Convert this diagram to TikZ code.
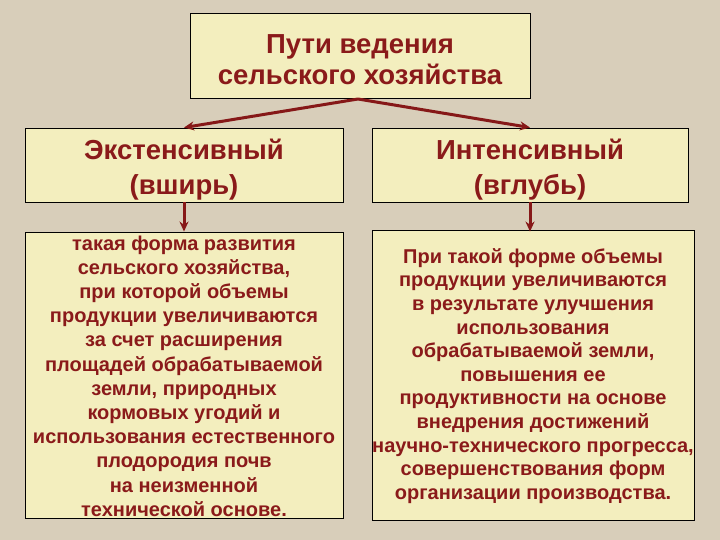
\documentclass[tikz,border=0pt]{standalone}
\usepackage{fontspec}
\setmainfont{Liberation Sans}
\usetikzlibrary{arrows.meta}
\definecolor{bgc}{HTML}{D8CEBA}
\definecolor{boxc}{HTML}{F3EEBE}
\definecolor{txtc}{HTML}{8A1A1A}
\definecolor{arrc}{HTML}{861818}
\tikzset{
  box/.style={draw=black, line width=0.9bp, fill=boxc, inner sep=0pt},
  txt/.style={text=txtc, align=center, inner sep=0pt},
  conn/.style={draw=arrc, line width=3bp, -{Stealth[length=10bp,width=9bp]}},
}
\begin{document}
\begin{tikzpicture}[x=1bp,y=-1bp]
\fill[bgc] (0,0) rectangle (720,540);
\useasboundingbox (0,0) rectangle (720,540);
\node[box, minimum width=340bp, minimum height=85bp] (top) at (360,56) {};
\node[txt, font=\bfseries\fontsize{27.5bp}{31bp}\selectfont] (toptext) at ([yshift=-4bp]top.center) {Пути ведения\\сельского хозяйства};
\node[box, minimum width=318bp, minimum height=74bp] (ext) at (184,165) {};
\node[txt, font=\bfseries\fontsize{27.5bp}{35bp}\selectfont] (exttext) at ([yshift=-4.5bp]ext.center) {Экстенсивный\\(вширь)};
\node[box, minimum width=316bp, minimum height=74bp] (int) at (530,165) {};
\node[txt, font=\bfseries\fontsize{27.5bp}{35bp}\selectfont] (inttext) at ([yshift=-4.5bp]int.center) {Интенсивный\\(вглубь)};
\node[box, minimum width=318bp, minimum height=286bp] (extd) at (184,375) {};
\node[txt, font=\bfseries\fontsize{20bp}{24.2bp}\selectfont] (extdtext) at ([yshift=-1bp]extd.center) {такая форма развития\\сельского хозяйства,\\при которой объемы\\продукции увеличиваются\\за счет расширения\\площадей обрабатываемой\\земли, природных\\кормовых угодий и\\использования естественного\\плодородия почв\\на неизменной\\технической основе.};
\node[box, minimum width=322bp, minimum height=290bp] (intd) at (533,375) {};
\node[txt, font=\bfseries\fontsize{20bp}{23.6bp}\selectfont] (intdtext) at ([yshift=-1bp]intd.center) {При такой форме объемы\\продукции увеличиваются\\в результате улучшения\\использования\\обрабатываемой земли,\\повышения ее\\продуктивности на основе\\внедрения достижений\\научно-технического прогресса,\\совершенствования форм\\организации производства.};
\coordinate (apex) at (358,99);
\draw[conn] (apex) -- (ext.north);
\draw[conn] (apex) -- (int.north);
\draw[conn] (ext.south) -- (extd.north);
\draw[conn] (int.south) -- (extd.north -| int.south);
\end{tikzpicture}
\end{document}
